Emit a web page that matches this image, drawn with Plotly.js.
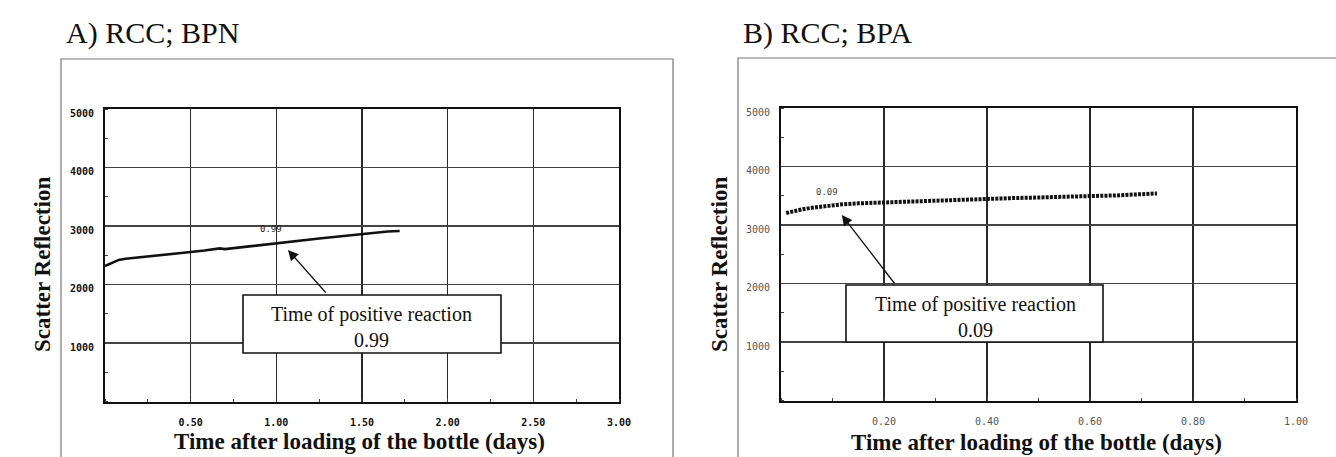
<!DOCTYPE html>
<html>
<head>
<meta charset="utf-8">
<script src="https://cdn.plot.ly/plotly-3.0.1.min.js"></script>
<style>html,body{margin:0;padding:0;background:#fff;}#chart{width:1336px;height:457px;}</style>
</head>
<body>
<div id="chart"></div>
<script>
// ---- Panel A: RCC; BPN ----
const daysA = [0.00, 0.02, 0.05, 0.08, 0.12, 0.18, 0.25, 0.32, 0.40, 0.50, 0.58, 0.64, 0.67, 0.70, 0.75, 0.82, 0.90, 1.00, 1.08, 1.15, 1.25, 1.35, 1.45, 1.50, 1.58, 1.65, 1.72];
const scatterA = [2316, 2345, 2390, 2420, 2440, 2460, 2480, 2500, 2525, 2555, 2580, 2598, 2618, 2605, 2622, 2645, 2672, 2709, 2730, 2755, 2785, 2815, 2845, 2863, 2885, 2905, 2915];
const xTicksA = [0.5, 1.0, 1.5, 2.0, 2.5, 3.0];
const xLabelsA = ['0.50', '1.00', '1.50', '2.00', '2.50', '3.00'];
const positiveA = {day: 0.99, label: '0.99'};

// ---- Panel B: RCC; BPA ----
const daysB = [0.01, 0.02, 0.04, 0.06, 0.08, 0.10, 0.12, 0.15, 0.18, 0.20, 0.25, 0.30, 0.35, 0.40, 0.45, 0.50, 0.55, 0.60, 0.65, 0.70, 0.73];
const scatterB = [3205, 3230, 3265, 3295, 3320, 3340, 3355, 3370, 3380, 3390, 3405, 3420, 3440, 3455, 3460, 3470, 3490, 3495, 3505, 3520, 3540];
const xTicksB = [0.2, 0.4, 0.6, 0.8, 1.0];
const xLabelsB = ['0.20', '0.40', '0.60', '0.80', '1.00'];
const positiveB = {day: 0.09, label: '0.09'};

// shared
const yTicks = [1000, 2000, 3000, 4000, 5000];
const yLabels = ['1000', '2000', '3000', '4000', '5000'];
const panelTitles = ['A) RCC; BPN', 'B) RCC; BPA'];
const xTitle = 'Time after loading of the bottle (days)';
const yTitle = 'Scatter Reflection';
const boxText = 'Time of positive reaction';

const W = 1336, H = 457;
const px = v => v / W;          // pixel -> paper x
const py = v => 1 - v / H;      // pixel -> paper y

const traces = [
  {x: daysA, y: scatterA, xaxis: 'x', yaxis: 'y', mode: 'lines', type: 'scatter',
   line: {color: '#111', width: 2.6}, hoverinfo: 'skip'},
  {x: daysB, y: scatterB, xaxis: 'x2', yaxis: 'y2', mode: 'lines', type: 'scatter',
   line: {color: '#111', width: 4, dash: '3px,1.2px'}, hoverinfo: 'skip'}
];

function xAxis(domain, range, vals, labels, anchor, dminor, color, weight) {
  return {
    domain: domain, range: range, anchor: anchor, fixedrange: true,
    tickmode: 'array', tickvals: vals, ticktext: labels,
    ticks: '', ticklabelstandoff: 10,
    tickfont: {family: 'DejaVu Sans Mono', size: 10, color: color, weight: weight},
    showgrid: true, gridcolor: '#2a2a2a', gridwidth: 1.5, zeroline: false,
    showline: true, linecolor: '#111', linewidth: 2, mirror: true,
    minor: {dtick: dminor, ticks: 'inside', ticklen: 3, tickwidth: 1, tickcolor: '#444', showgrid: false}
  };
}
function yAxis(domain, anchor, color, weight) {
  return {
    domain: domain, range: [0, 5000], anchor: anchor, fixedrange: true,
    tickmode: 'array', tickvals: yTicks, ticktext: yLabels,
    ticks: '', ticklabelstandoff: 7, ticklabelshift: 4,
    tickfont: {family: 'DejaVu Sans Mono', size: 10, color: color, weight: weight},
    showgrid: true, gridcolor: '#444', gridwidth: 1.5, zeroline: false,
    showline: true, linecolor: '#111', linewidth: 2, mirror: true,
    minor: {dtick: 500, ticks: 'inside', ticklen: 3, tickwidth: 1, tickcolor: '#444', showgrid: false}
  };
}

const layout = {
  width: W, height: H, margin: {l: 0, r: 0, t: 0, b: 0},
  paper_bgcolor: '#fff', plot_bgcolor: '#fff', showlegend: false,
  xaxis: xAxis([px(105), px(619)], [0, 3], xTicksA, xLabelsA, 'y', 0.25, '#111', 'bold'),
  yaxis: yAxis([py(401.5), py(109)], 'x', '#111', 'bold'),
  xaxis2: xAxis([px(781), px(1296)], [0, 1], xTicksB, xLabelsB, 'y2', 0.1, '#555', 'normal'),
  yaxis2: yAxis([py(400.5), py(108)], 'x2', '#555', 'normal'),
  shapes: [
    // outer frames
    {type: 'rect', xref: 'paper', yref: 'paper', x0: px(61), x1: px(673), y0: py(470), y1: py(59),
     line: {color: '#777', width: 1.2}, fillcolor: 'rgba(0,0,0,0)', layer: 'below'},
    {type: 'rect', xref: 'paper', yref: 'paper', x0: px(738), x1: px(1350), y0: py(470), y1: py(58),
     line: {color: '#777', width: 1.2}, fillcolor: 'rgba(0,0,0,0)', layer: 'below'},
    // callout boxes
    {type: 'rect', xref: 'paper', yref: 'paper', x0: px(243), x1: px(501), y0: py(353), y1: py(295),
     line: {color: '#111', width: 1.6}, fillcolor: '#fff', layer: 'above'},
    {type: 'rect', xref: 'paper', yref: 'paper', x0: px(846), x1: px(1103), y0: py(342), y1: py(285),
     line: {color: '#111', width: 1.6}, fillcolor: '#fff', layer: 'above'}
  ],
  annotations: [
    // panel titles
    {text: panelTitles[0], xref: 'paper', yref: 'paper', x: px(64), y: py(33), xanchor: 'left', yanchor: 'middle',
     showarrow: false, font: {family: 'Liberation Serif', size: 30, color: '#111'}},
    {text: panelTitles[1], xref: 'paper', yref: 'paper', x: px(741), y: py(33), xanchor: 'left', yanchor: 'middle',
     showarrow: false, font: {family: 'Liberation Serif', size: 30, color: '#111'}},
    // axis titles
    {text: '<b>' + xTitle + '</b>', xref: 'paper', yref: 'paper', x: px(359), y: py(441), xanchor: 'center', yanchor: 'middle',
     showarrow: false, font: {family: 'Liberation Serif', size: 23, color: '#111'}},
    {text: '<b>' + xTitle + '</b>', xref: 'paper', yref: 'paper', x: px(1036), y: py(442), xanchor: 'center', yanchor: 'middle',
     showarrow: false, font: {family: 'Liberation Serif', size: 23, color: '#111'}},
    {text: '<b>' + yTitle + '</b>', xref: 'paper', yref: 'paper', x: px(42), y: py(265), xanchor: 'center', yanchor: 'middle',
     textangle: -90, showarrow: false, font: {family: 'Liberation Serif', size: 23, color: '#111'}},
    {text: '<b>' + yTitle + '</b>', xref: 'paper', yref: 'paper', x: px(719), y: py(265), xanchor: 'center', yanchor: 'middle',
     textangle: -90, showarrow: false, font: {family: 'Liberation Serif', size: 23, color: '#111'}},
    // small value labels on the curves
    {text: positiveA.label, xref: 'x', yref: 'y', x: positiveA.day - 0.02, y: 2950, xanchor: 'center', yanchor: 'middle',
     showarrow: false, font: {family: 'DejaVu Sans Mono', size: 9, color: '#222'}},
    {text: positiveB.label, xref: 'x2', yref: 'y2', x: positiveB.day, y: 3560, xanchor: 'center', yanchor: 'middle',
     showarrow: false, font: {family: 'DejaVu Sans Mono', size: 9, color: '#444'}},
    // callout texts
    {text: boxText + '<br>' + positiveA.label, xref: 'paper', yref: 'paper', x: px(372), y: py(327), xanchor: 'center', yanchor: 'middle',
     showarrow: false, font: {family: 'Liberation Serif', size: 20, color: '#111'}},
    {text: boxText + '<br>' + positiveB.label, xref: 'paper', yref: 'paper', x: px(975), y: py(317), xanchor: 'center', yanchor: 'middle',
     showarrow: false, font: {family: 'Liberation Serif', size: 20, color: '#111'}},
    // arrows
    {text: '', xref: 'x', yref: 'y', x: 1.068, y: 2590, ax: 39, ay: 44, axref: 'pixel', ayref: 'pixel',
     showarrow: true, arrowhead: 2, arrowsize: 1.6, arrowwidth: 1.3, arrowcolor: '#111', standoff: 0},
    {text: '', xref: 'x2', yref: 'y2', x: 0.118, y: 3171, ax: 54, ay: 70, axref: 'pixel', ayref: 'pixel',
     showarrow: true, arrowhead: 2, arrowsize: 1.6, arrowwidth: 1.3, arrowcolor: '#111', standoff: 0}
  ]
};

Plotly.newPlot('chart', traces, layout, {staticPlot: true, displayModeBar: false});
</script>
</body>
</html>
